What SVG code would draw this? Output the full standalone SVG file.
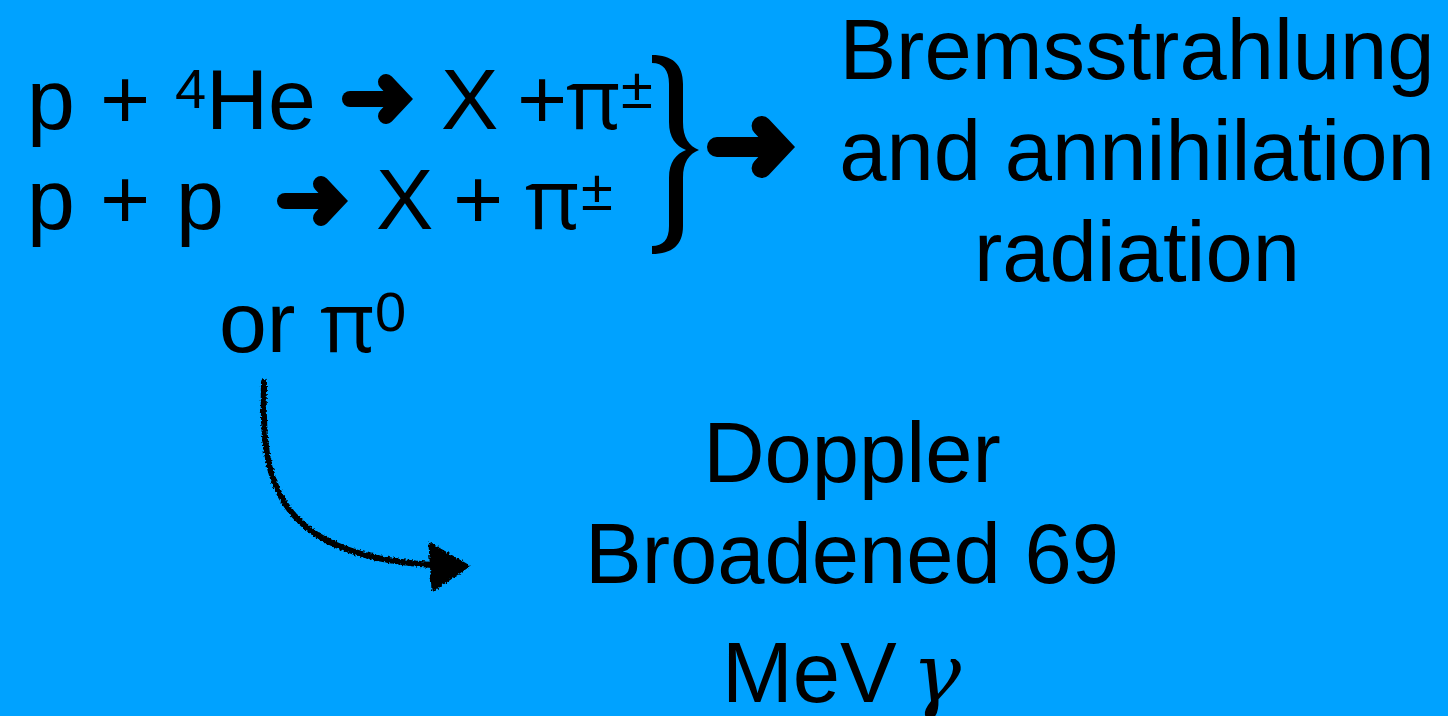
<svg xmlns="http://www.w3.org/2000/svg" width="1448" height="716" viewBox="0 0 1448 716">
<style>
.t{font-family:"Liberation Sans",Arial,Helvetica,sans-serif;font-size:86px;fill:#000}
.big{font-size:85px}
.sup{font-size:56px}
.pm{font-size:58px}
.pi{font-family:"Open Sans","Noto Sans","DejaVu Sans",sans-serif;font-size:84px}
.g{font-family:"DejaVu Serif","Liberation Serif",serif;font-style:italic;font-size:82px;fill:#000}
.shaft{fill:none;stroke:#000;stroke-width:16;stroke-linecap:round}
.head{fill:none;stroke:#000;stroke-width:16;stroke-linecap:round;stroke-linejoin:miter;stroke-miterlimit:4}
</style>
<defs>
<g id="arr">
<line class="shaft" x1="8" y1="0" x2="58" y2="0"/>
<polyline class="head" points="44,-17 60,0 44,17"/>
</g>
<filter id="rough" x="-10%" y="-10%" width="120%" height="120%">
<feTurbulence type="fractalNoise" baseFrequency="0.5" numOctaves="2" seed="3" result="n"/>
<feDisplacementMap in="SourceGraphic" in2="n" scale="5" xChannelSelector="R" yChannelSelector="G"/>
</filter>
</defs>
<rect width="1448" height="716" fill="#00A2FF"/>

<g id="eq1">
<text class="t" y="129"><tspan x="27">p</tspan><tspan x="100">+</tspan><tspan x="175" y="108" class="sup">4</tspan><tspan x="206" y="129">He</tspan><tspan x="441">X</tspan><tspan x="517">+</tspan><tspan x="566" class="pi">π</tspan><tspan x="621" y="108" class="pm">±</tspan></text>
</g>
<g id="eq2">
<text class="t" y="229"><tspan x="27">p</tspan><tspan x="100">+</tspan><tspan x="176">p</tspan><tspan x="376">X</tspan><tspan x="453">+</tspan><tspan x="525" class="pi">π</tspan><tspan x="581" y="210" class="pm">±</tspan></text>
</g>
<g id="pi0">
<text class="t" y="352"><tspan x="219">or</tspan><tspan x="320" class="pi">π</tspan><tspan x="375" y="331" class="sup">0</tspan></text>
</g>
<g id="brace">
<path d="M652 55 C672 55 683 64 683 84 L683 122 C683 138 689 146 699 150 C689 154 683 162 683 178 L683 226 C683 245 672 254 652 254 L652 246 C663 246 669 240 669 226 L669 178 C669 162 676 154 686 150 C676 146 669 138 669 122 L669 84 C669 70 663 63 652 63 Z" fill="#000"/>
</g>
<g id="brems">
<text class="t big" text-anchor="middle" x="1137" y="79">Bremsstrahlung</text>
<text class="t big" text-anchor="middle" x="1137" y="180">and annihilation</text>
<text class="t big" text-anchor="middle" x="1137" y="281">radiation</text>
</g>
<g id="doppler">
<text class="t big" text-anchor="middle" x="852" y="482">Doppler</text>
<text class="t big" text-anchor="middle" x="852" y="583">Broadened 69</text>
<text class="t big" y="702"><tspan x="722">MeV</tspan><tspan class="g" x="912">γ</tspan></text>
</g>
<g id="connectors">
<use href="#arr" transform="translate(342,99)"/>
<use href="#arr" transform="translate(277,201)"/>
<use href="#arr" transform="translate(707,147) scale(1.24)"/>
<g filter="url(#rough)">
<path d="M264 382 C262 470 265 555 432 565" fill="none" stroke="#000" stroke-width="6" stroke-linecap="round"/>
<path d="M430 544 L468 566 L433 590 Z" fill="#000" stroke="#000" stroke-width="3" stroke-linejoin="round"/>
</g>
</g>
</svg>
